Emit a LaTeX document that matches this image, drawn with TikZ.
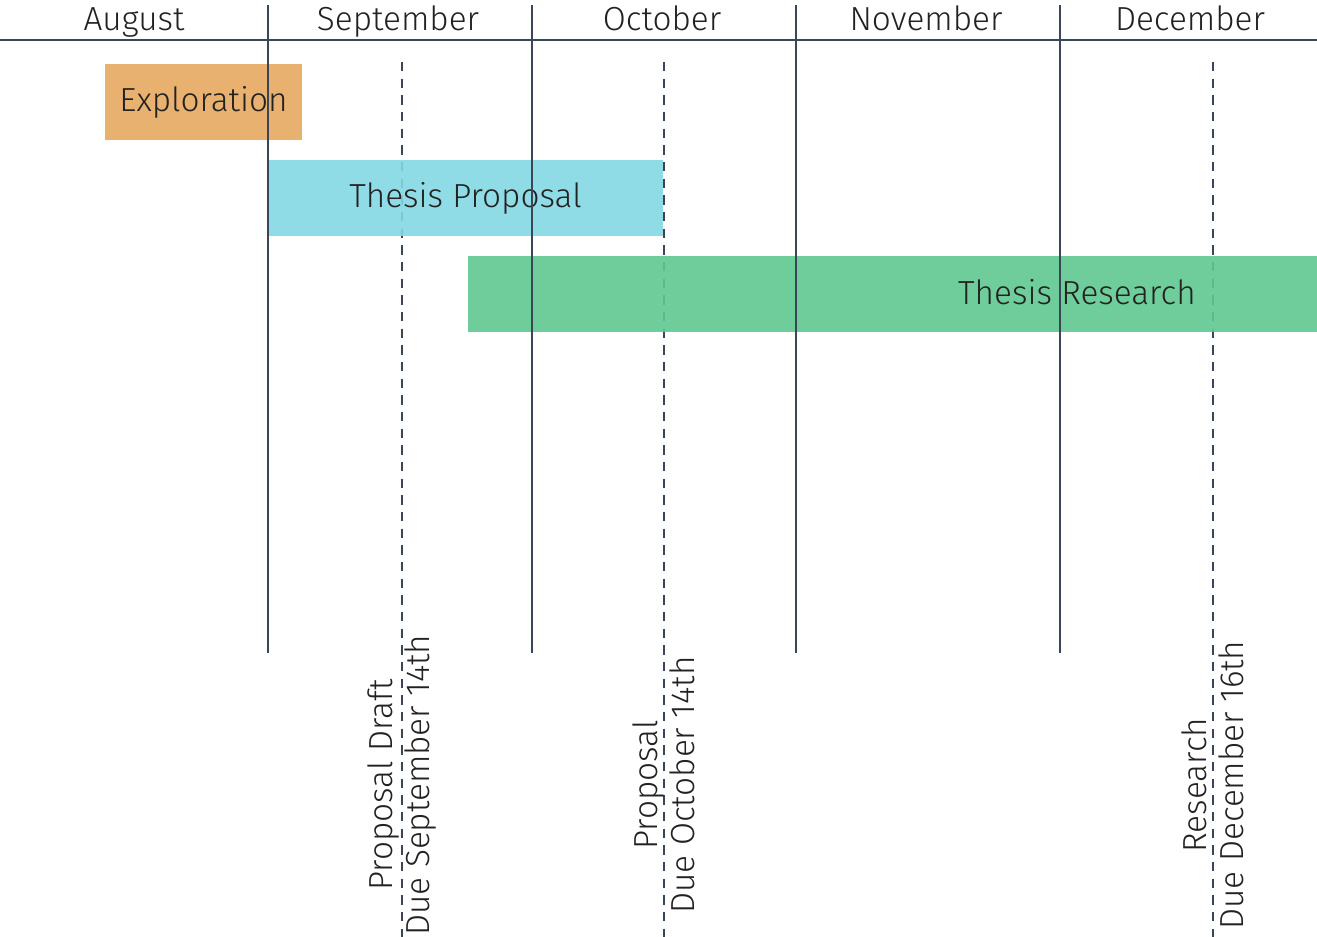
\documentclass[tikz,border=0pt]{standalone}
\usepackage{fontspec}
\setmainfont{Fira Sans}[UprightFont=* Light]

\definecolor{gridline}{HTML}{3A4558}
\definecolor{explorefill}{HTML}{E5A860}
\definecolor{proposalfill}{HTML}{84D8E3}
\definecolor{researchfill}{HTML}{5EC88F}
\definecolor{ink}{HTML}{222222}

\begin{document}
\begin{tikzpicture}[x=0.75pt,y=-0.75pt]
    \tikzstyle{month}=[text=ink, font=\fontsize{25}{28}\selectfont]
    \tikzstyle{bar}=[minimum height=57pt, inner sep=0pt, text=ink, fill opacity=0.9, text opacity=1, font=\fontsize{25}{28}\selectfont]
    \tikzstyle{due}=[rotate=90, align=center, text=ink, font=\fontsize{25}{28}\selectfont]
    \tikzstyle{deadline}=[gridline, line width=1.8pt, dash pattern=on 7pt off 5.5pt]
    \tikzstyle{monthline}=[gridline, line width=2pt]

    \useasboundingbox (0,0) rectangle (1317,937);

    % deadlines
    \foreach \x/\name in {402/draft, 664/prop, 1213/res} {
        \coordinate (\name top) at (\x, 62);
        \coordinate (\name bot) at (\x, 937);
        \draw[deadline] (\name top) -- (\name bot);
    }

    % bars
    \node[bar, fill=explorefill, minimum width=147.75pt] (explore) at (203.5, 102) {Exploration};
    \node[bar, fill=proposalfill, minimum width=296.25pt] (proposal) at (465.5, 198) {Thesis Proposal};
    \node[bar, fill=researchfill, minimum width=642pt] (research) at (896, 294) {};
    \node[month, anchor=east, inner sep=0pt] (researchtext) at (1196, 292) {Thesis Research};

    % month header
    \coordinate (hl) at (0, 40);
    \coordinate (hr) at (1317, 40);
    \draw[monthline] (hl) -- (hr);
    \foreach \i/\m in {0/August, 1/September, 2/October, 3/November, 4/December} {
        \node[month, anchor=base] (m\i) at (134+264*\i, 31) {\m};
    }
    \foreach \i in {1,...,4} {
        \draw[monthline] (4+264*\i, 5) -- (4+264*\i, 653);
    }

    \node[due] (draftdue) at (402, 785) {Proposal Draft\\Due September 14th};
    \node[due] (propdue) at (664, 785) {Proposal\\Due October 14th};
    \node[due] (resdue) at (1213, 785) {Research\\Due December 16th};
\end{tikzpicture}
\end{document}
